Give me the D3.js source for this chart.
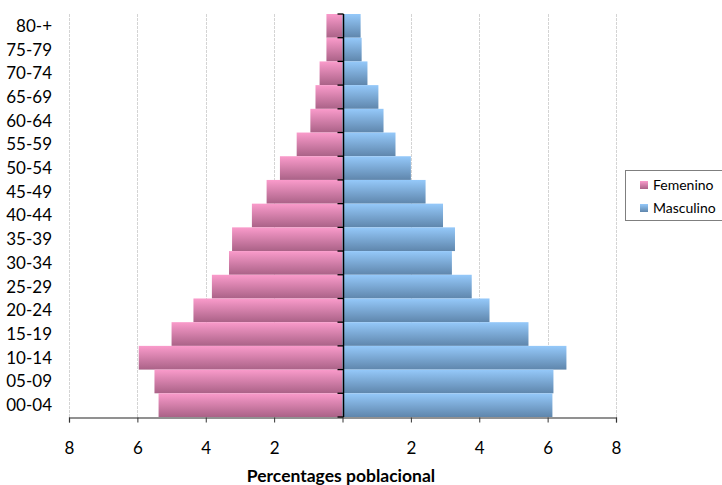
<!DOCTYPE html>
<html>
<head>
	<title>Piramide poblacional</title>
	<script src="https://d3js.org/d3.v7.min.js"></script>
</head>

<style type="text/css">
    body {
        margin: 0;
        background: white;
    }
    svg text {
        font-family: Lato, "Open Sans", sans-serif;
        fill: #000;
    }
</style>

<body>
    <div id='chart'></div>

    <script type="text/javascript">
        // age groups, top to bottom
        var ageGroups = ['80-+','75-79','70-74','65-69','60-64','55-59','50-54','45-49','40-44',
                         '35-39','30-34','25-29','20-24','15-19','10-14','05-09','00-04'];
        var femenino = [0.47,0.47,0.67,0.79,0.94,1.34,1.83,2.22,2.65,3.23,3.32,3.82,4.36,5.0,5.96,5.5,5.38];
        var masculino = [0.53,0.56,0.73,1.05,1.2,1.55,2.0,2.43,2.94,3.29,3.2,3.78,4.3,5.44,6.55,6.17,6.14];
        var xTicks = [-8,-6,-4,-2,0,2,4,6,8];
        var seriesNames = ['Femenino','Masculino'];

        var width = 722;
        var height = 485;
        var plotLeft = 69, plotRight = 616, plotTop = 14, plotBottom = 417;

        var svg = d3.select('#chart').append('svg')
            .attr('width', width)
            .attr('height', height);

        // gradients for the bars
        var defs = svg.append('defs');
        var gradPink = defs.append('linearGradient').attr('id','gPink')
            .attr('x1',0).attr('y1',0).attr('x2',0).attr('y2',1);
        gradPink.append('stop').attr('offset','0%').attr('stop-color','#fa9bcb');
        gradPink.append('stop').attr('offset','100%').attr('stop-color','#aa6287');
        var gradBlue = defs.append('linearGradient').attr('id','gBlue')
            .attr('x1',0).attr('y1',0).attr('x2',0).attr('y2',1);
        gradBlue.append('stop').attr('offset','0%').attr('stop-color','#95c9fa');
        gradBlue.append('stop').attr('offset','100%').attr('stop-color','#5f86ac');

        //Set X Scale (females to the left as negatives)
        var x = d3.scaleLinear()
            .domain([-8, 8])
            .range([plotLeft, plotRight]);

        //Set Y Scale
        var y = d3.scaleBand()
            .domain(ageGroups)
            .range([plotTop, plotBottom])
            .padding(0);

        // gridlines
        svg.append('g').selectAll('line')
            .data(xTicks.filter(function(d){ return d !== 0; }))
            .enter().append('line')
                .attr('x1', function(d){ return Math.round(x(d)) + 0.5; })
                .attr('x2', function(d){ return Math.round(x(d)) + 0.5; })
                .attr('y1', plotTop)
                .attr('y2', plotBottom)
                .style('stroke', '#d4d4d4')
                .style('stroke-dasharray', '3,1');

        // bars
        svg.append('g').selectAll('rect')
            .data(femenino)
            .enter().append('rect')
                .attr('x', function(d){ return x(-d); })
                .attr('y', function(d,i){ return y(ageGroups[i]); })
                .attr('width', function(d){ return x(0) - x(-d); })
                .attr('height', y.bandwidth())
                .style('fill', 'url(#gPink)');

        svg.append('g').selectAll('rect')
            .data(masculino)
            .enter().append('rect')
                .attr('x', x(0))
                .attr('y', function(d,i){ return y(ageGroups[i]); })
                .attr('width', function(d){ return x(d) - x(0); })
                .attr('height', y.bandwidth())
                .style('fill', 'url(#gBlue)');

        // bottom axis
        var xAxis = d3.axisBottom(x)
            .tickValues(xTicks)
            .tickSize(5)
            .tickPadding(19)
            .tickFormat(function(d){ return d === 0 ? '' : Math.abs(d); });
        var gx = svg.append('g')
            .attr('transform', 'translate(0,' + (plotBottom + 0.5) + ')')
            .call(xAxis);
        gx.select('.domain').style('stroke', '#6e6e6e').style('stroke-width', 1.3);
        gx.selectAll('.tick line').style('stroke', '#333');
        gx.selectAll('.tick text')
            .style('font-size', '17px')
            .style('font-family', 'Lato, sans-serif');

        // center axis with category ticks
        var x0 = Math.round(x(0)) + 0.5;
        var gy = svg.append('g');
        gy.append('line')
            .attr('x1', x0).attr('x2', x0)
            .attr('y1', plotTop).attr('y2', plotBottom)
            .style('stroke', '#000').style('stroke-width', 1.5);
        gy.selectAll('.ctick')
            .data(ageGroups.concat(['end']))
            .enter().append('line')
                .attr('x1', x0 - 6).attr('x2', x0)
                .attr('y1', function(d){ return d === 'end' ? plotBottom : y(d); })
                .attr('y2', function(d){ return d === 'end' ? plotBottom : y(d); })
                .style('stroke', '#000').style('stroke-width', 1.3);

        // category labels on the left
        svg.append('g').selectAll('text')
            .data(ageGroups)
            .enter().append('text')
                .attr('x', 52)
                .attr('y', function(d){ return y(d) + y.bandwidth() / 2; })
                .attr('dy', '0.35em')
                .attr('text-anchor', 'end')
                .style('font-size', '17px')
                .text(function(d){ return d; });

        // axis title
        svg.append('text')
            .attr('x', 341)
            .attr('y', 482)
            .attr('text-anchor', 'middle')
            .style('font-size', '17.5px')
            .style('font-weight', 'bold')
            .text('Percentages poblacional');

        // legend
        var legend = svg.append('g');
        legend.append('rect')
            .attr('x', 625.5).attr('y', 170.5)
            .attr('width', 100).attr('height', 50)
            .style('fill', 'white')
            .style('stroke', '#7f7f7f');
        var items = legend.selectAll('.item')
            .data(seriesNames)
            .enter().append('g')
                .attr('transform', function(d,i){ return 'translate(640,' + (181 + i * 23) + ')'; });
        items.append('rect')
            .attr('width', 8).attr('height', 8)
            .style('fill', function(d,i){ return i === 0 ? 'url(#gPink)' : 'url(#gBlue)'; });
        items.append('text')
            .attr('x', 13)
            .attr('y', 4)
            .attr('dy', '0.35em')
            .style('font-size', '14px')
            .text(function(d){ return d; });
    </script>
</body>
</html>
